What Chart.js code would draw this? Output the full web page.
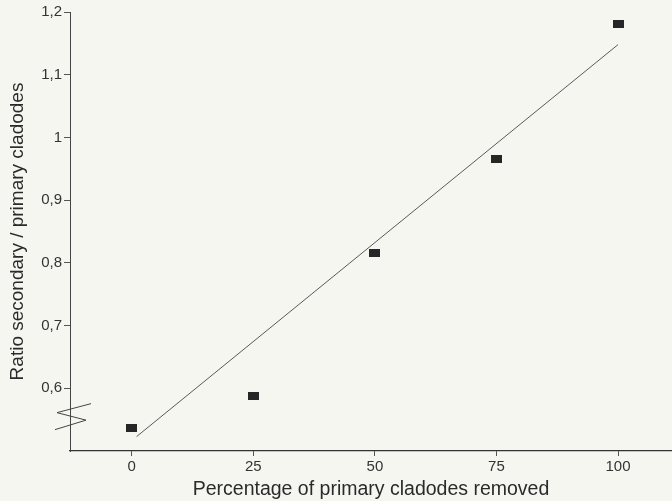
<!DOCTYPE html>
<html>
<head>
<meta charset="utf-8">
<script src="https://cdn.jsdelivr.net/npm/chart.js@4/dist/chart.umd.min.js"></script>
<style>
html,body{margin:0;padding:0;background:#f6f6f1;}
#wrap{width:672px;height:501px;position:relative;}
</style>
</head>
<body>
<div id="wrap"><canvas id="c" width="672" height="501"></canvas></div>
<script>
// Data
const percentRemoved = [0, 25, 50, 75, 100];
const ratioValues = [0.537, 0.587, 0.816, 0.966, 1.181];
const fitX = [1, 100];
const fitY = [0.523, 1.148];
const xTicks = [0, 25, 50, 75, 100];
const yTicks = [0.6, 0.7, 0.8, 0.9, 1.0, 1.1, 1.2];
const breakValue = 0.55;
const xTitle = 'Percentage of primary cladodes removed';
const yTitle = 'Ratio secondary / primary cladodes';

const marker = document.createElement('canvas');
marker.width = 11; marker.height = 8;
const mctx = marker.getContext('2d');
mctx.fillStyle = '#262626';
mctx.fillRect(0, 0, 11, 8);

const bgPlugin = {
  id: 'bg',
  beforeDraw(chart) {
    const ctx = chart.ctx;
    ctx.save();
    ctx.fillStyle = '#f6f6f1';
    ctx.fillRect(0, 0, chart.width, chart.height);
    ctx.restore();
  }
};

const breakPlugin = {
  id: 'axisBreak',
  afterDraw(chart) {
    const ctx = chart.ctx;
    const ys = chart.scales.y;
    const ax = chart.chartArea.left;
    const yc = ys.getPixelForValue(breakValue);
    ctx.save();
    ctx.strokeStyle = '#444';
    ctx.lineWidth = 1;
    ctx.beginPath();
    ctx.moveTo(ax + 21, yc - 16);
    ctx.lineTo(ax - 13, yc - 7);
    ctx.lineTo(ax + 16, yc + 0.5);
    ctx.lineTo(ax - 15, yc + 10);
    ctx.stroke();
    ctx.restore();
  }
};

const fmt = v => {
  const r = Math.round(v * 10) / 10;
  return (Number.isInteger(r) ? String(r) : r.toFixed(1)).replace('.', ',');
};

new Chart(document.getElementById('c'), {
  type: 'scatter',
  data: {
    datasets: [
      {
        label: 'fit',
        type: 'line',
        data: fitX.map((x, i) => ({x, y: fitY[i]})),
        borderColor: '#5a5a5a',
        borderWidth: 1,
        pointRadius: 0,
        fill: false,
        order: 2
      },
      {
        label: 'ratio',
        data: percentRemoved.map((x, i) => ({x, y: ratioValues[i]})),
        pointStyle: marker,
        pointRadius: 6,
        order: 1
      }
    ]
  },
  plugins: [bgPlugin, breakPlugin],
  options: {
    responsive: false,
    animation: false,
    devicePixelRatio: 1,
    layout: { autoPadding: false, padding: { top: 12, right: 0, left: 0, bottom: 0 } },
    plugins: { legend: { display: false }, tooltip: { enabled: false } },
    scales: {
      x: {
        type: 'linear',
        min: -12.7,
        max: 111.1,
        afterBuildTicks(s) { s.ticks = xTicks.map(v => ({value: v})); },
        afterFit(s) { s.height = 50; s.paddingRight = 0; s.paddingLeft = 0; },
        grid: { display: true, drawOnChartArea: false, drawTicks: true, tickLength: 5, color: '#555', tickWidth: 1 },
        border: { display: true, color: '#333', width: 1.2 },
        ticks: { color: '#333', font: { family: 'Liberation Sans, Arial, sans-serif', size: 15 }, padding: 2, maxRotation: 0, callback: v => String(v) },
        title: { display: true, text: xTitle, color: '#2a2a2a', font: { family: 'Liberation Sans, Arial, sans-serif', size: 19.5 }, padding: { top: 0, bottom: 0 } }
      },
      y: {
        type: 'linear',
        min: 0.5,
        max: 1.2,
        afterBuildTicks(s) { s.ticks = yTicks.map(v => ({value: v})); },
        afterFit(s) { s.width = 70; },
        grid: { display: true, drawOnChartArea: false, drawTicks: true, tickLength: 6, color: '#555', tickWidth: 1 },
        border: { display: true, color: '#444', width: 1 },
        ticks: { color: '#333', font: { family: 'Liberation Sans, Arial, sans-serif', size: 15 }, padding: 2, callback: v => fmt(v) },
        title: { display: true, text: yTitle, color: '#2a2a2a', font: { family: 'Liberation Sans, Arial, sans-serif', size: 19 }, padding: { top: 6, bottom: 0 } }
      }
    }
  }
});
</script>
</body>
</html>
